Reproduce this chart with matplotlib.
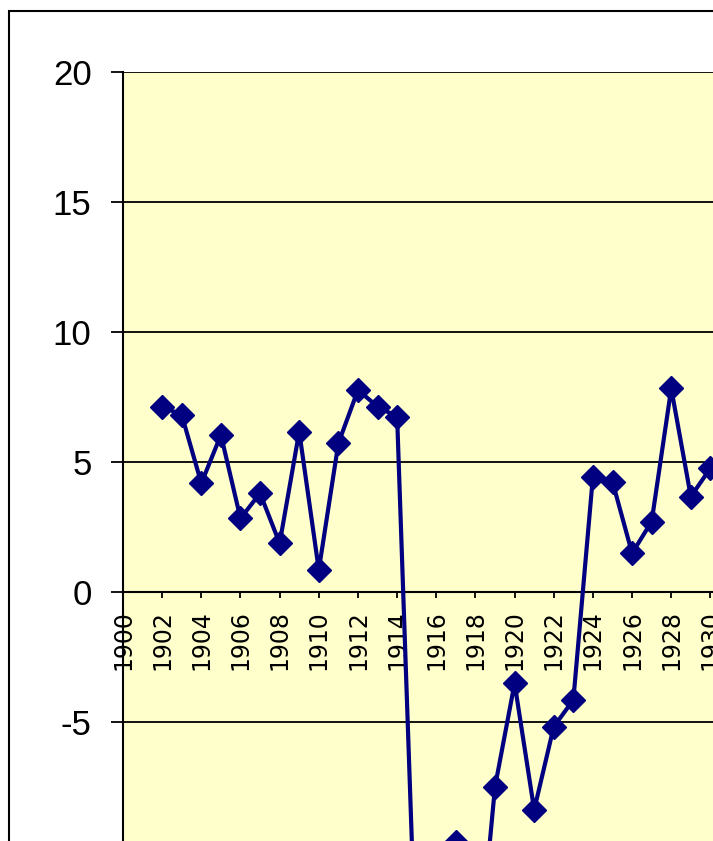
import matplotlib
matplotlib.use("Agg")
import matplotlib.pyplot as plt
import numpy as np
from matplotlib.patches import Rectangle

plt.rcParams["font.family"] = ["Liberation Sans", "DejaVu Sans"]

# values; 1915-1918 lie below the visible part of the chart
years = list(range(1900, 1931))
values = [np.nan, np.nan,
          7.13, 6.81, 4.18, 6.04, 2.83, 3.80, 1.87, 6.17, 0.85,
          5.72, 7.77, 7.13, 6.74, -15.0, -12.0, -9.6, -15.5, -7.49, -3.51,
          -8.38, -5.18, -4.15, 4.44, 4.24, 1.49, 2.71, 7.83, 3.67, 4.76]
x_ticks = list(range(1900, 1931, 2))
x_tick_labels = [str(y) for y in x_ticks]
y_ticks = list(range(-25, 21, 5))

W, H = 713, 841
fig = plt.figure(figsize=(W / 100, H / 100), dpi=100)

# the chart is larger than the picture: the bottom part is cut off
px_year, px_unit = 19.58, 26.0
left_px, top_px = 123, 72
xlim = (1900, 1900 + (W - left_px) / px_year)
ylim = (-25, 20)
ax_w = (xlim[1] - xlim[0]) * px_year
ax_h = (ylim[1] - ylim[0]) * px_unit
ax = fig.add_axes([left_px / W, (H - top_px - ax_h) / H, ax_w / W, ax_h / H])
ax.set_facecolor("#FFFFCC")
ax.set_xlim(*xlim)
ax.set_ylim(*ylim)

ax.plot(years, values, color="#000080", lw=3, marker="D", ms=12,
        mfc="#000080", mec="#000080", mew=1, zorder=3, clip_on=False)

ax.spines["top"].set_visible(False)
ax.spines["right"].set_visible(False)
ax.spines["bottom"].set_position(("data", 0))
for side in ("left", "bottom"):
    ax.spines[side].set_linewidth(1.5)
    ax.spines[side].set_color("black")

ax.set_yticks(y_ticks)
ax.set_yticklabels([str(v) for v in y_ticks])
ax.yaxis.grid(True, color="black", lw=1.3)
ax.set_axisbelow(True)
ax.tick_params(axis="y", direction="out", length=8.6, width=1.3, pad=14,
               labelsize=25, colors="black")

ax.set_xticks(x_ticks)
ax.set_xticklabels(x_tick_labels, rotation=90, family="DejaVu Sans")
ax.tick_params(axis="x", direction="out", length=4.3, width=1.3, pad=9,
               labelsize=17)

# outer chart border
fig.add_artist(Rectangle((8.5 / W, -0.5), 2, 0.5 + (H - 10.5) / H,
                         transform=fig.transFigure, fill=False,
                         ec="black", lw=1.5))

fig.savefig("out.png", dpi=100)
